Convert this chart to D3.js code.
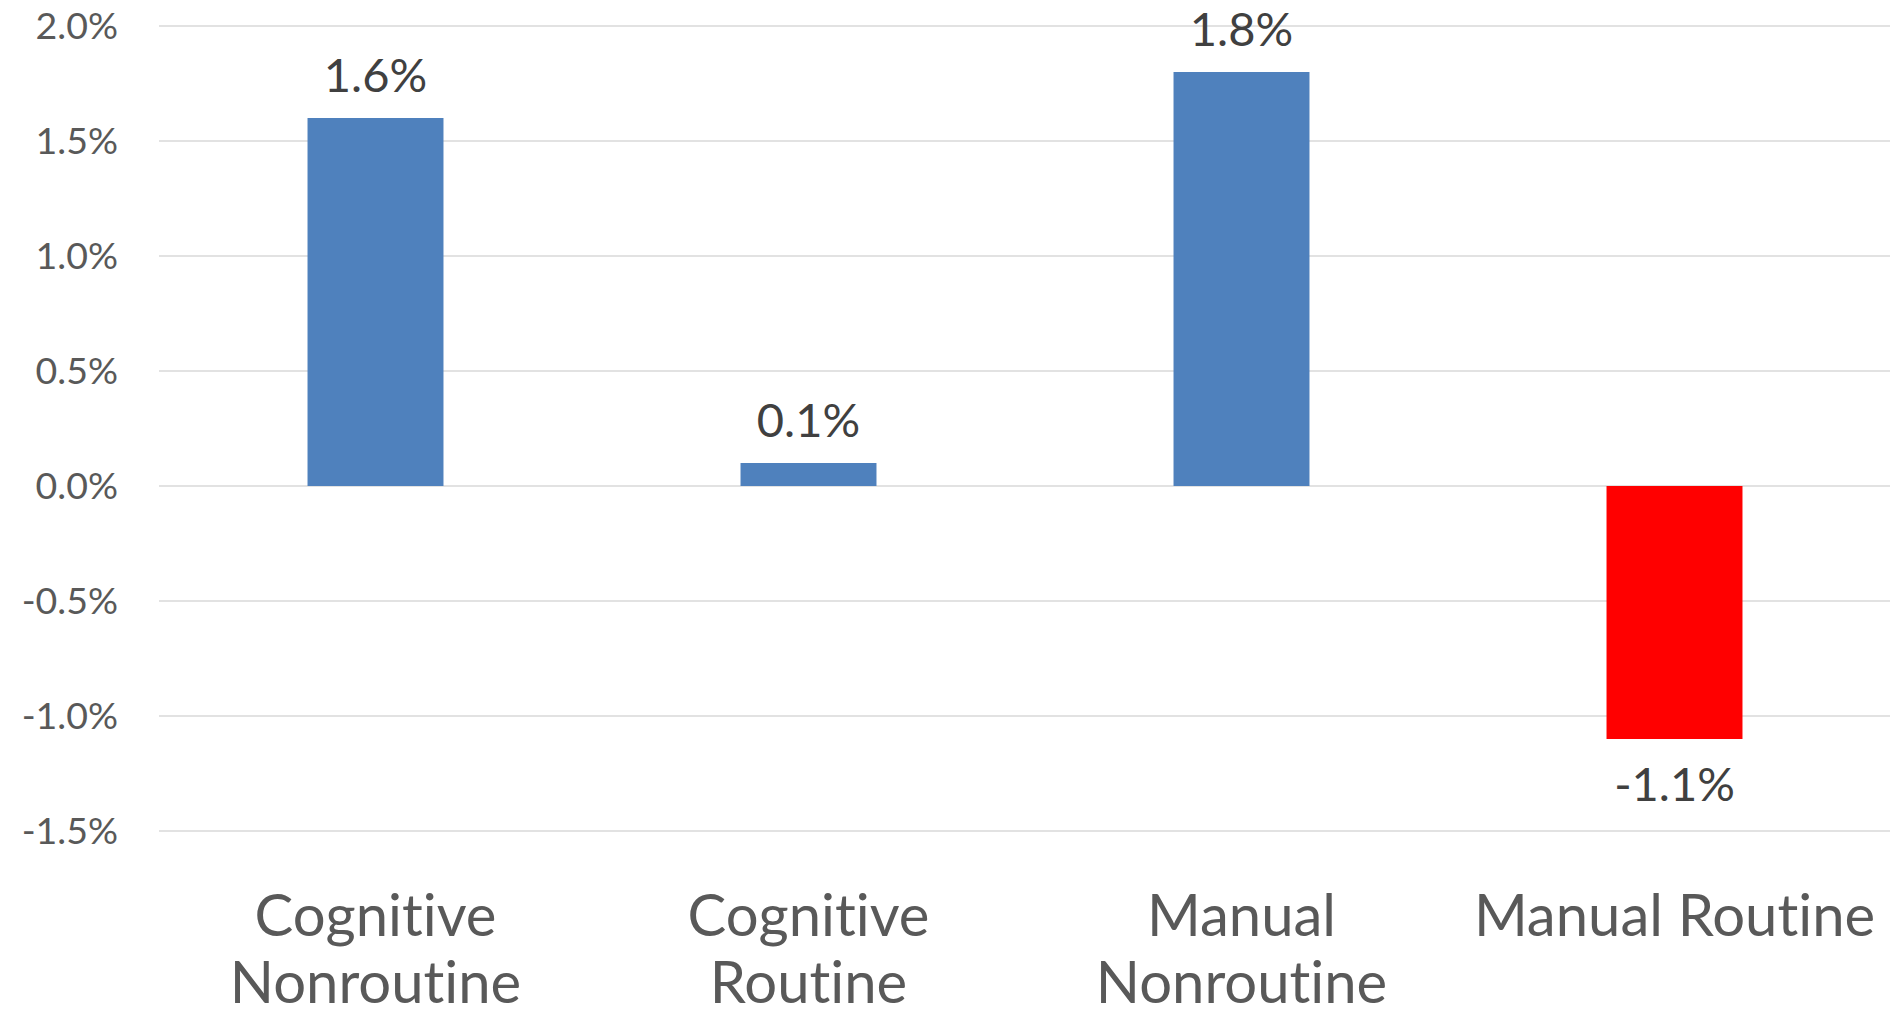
<!DOCTYPE html>
<html>
<head>
<meta charset="utf-8">
<script src="https://cdn.jsdelivr.net/npm/d3@7"></script>
<style>
  html, body { margin: 0; padding: 0; background: #fff; }
  svg { display: block; }
  text { font-family: Lato, "Open Sans", sans-serif; font-variant-ligatures: none; font-feature-settings: "liga" 0, "clig" 0; }
</style>
</head>
<body>
<svg id="chart" width="1890" height="1015"></svg>
<script>
const categories = ["Cognitive Nonroutine", "Cognitive Routine", "Manual Nonroutine", "Manual Routine"];
const values = [1.6, 0.1, 1.8, -1.1];
const barColors = ["#4F81BD", "#4F81BD", "#4F81BD", "#FF0000"];
const yTicks = [2.0, 1.5, 1.0, 0.5, 0.0, -0.5, -1.0, -1.5];

const svg = d3.select("#chart");
const W = 1890, H = 1015;

const x = d3.scaleBand()
  .domain(categories)
  .range([159, 1891])
  .paddingInner(0.686)
  .paddingOuter(0.343);

const y = d3.scaleLinear()
  .domain([-1.5, 2.0])
  .range([831, 26]);

const fmt = v => v.toFixed(1) + "%";

// gridlines
svg.append("g").selectAll("line")
  .data(yTicks)
  .join("line")
  .attr("x1", 159).attr("x2", W)
  .attr("y1", d => y(d)).attr("y2", d => y(d))
  .attr("stroke", "#D9D9D9")
  .attr("stroke-width", 1.5);

// y tick labels
svg.append("g").selectAll("text")
  .data(yTicks)
  .join("text")
  .attr("x", 118)
  .attr("y", d => y(d) + 13)
  .attr("text-anchor", "end")
  .attr("font-size", 37.5)
  .attr("fill", "#595959")
  .text(fmt);

// bars
svg.append("g").selectAll("rect")
  .data(values)
  .join("rect")
  .attr("x", (d, i) => x(categories[i]))
  .attr("width", x.bandwidth())
  .attr("y", d => y(Math.max(0, d)))
  .attr("height", d => Math.abs(y(d) - y(0)))
  .attr("fill", (d, i) => barColors[i]);

// data labels
svg.append("g").selectAll("text")
  .data(values)
  .join("text")
  .attr("x", (d, i) => x(categories[i]) + x.bandwidth() / 2)
  .attr("y", d => d >= 0 ? y(d) - 26 : y(d) + 62)
  .attr("text-anchor", "middle")
  .attr("font-size", 47)
  .attr("fill", "#404040")
  .text(fmt);

// category labels with wrapping
const catG = svg.append("g");
const line1 = 936, lineGap = 67;
categories.forEach((c, i) => {
  const cx = x(c) + x.bandwidth() / 2;
  const t = catG.append("text")
    .attr("x", cx)
    .attr("y", line1)
    .attr("text-anchor", "middle")
    .attr("font-size", 58)
    .attr("fill", "#595959");
  const maxW = x.step();
  const words = c.split(" ");
  let lines = [];
  let cur = [];
  const probe = t.append("tspan").attr("x", cx);
  words.forEach(w => {
    const test = cur.concat([w]).join(" ");
    probe.text(test);
    if (probe.node().getComputedTextLength() > maxW && cur.length) {
      lines.push(cur.join(" "));
      cur = [w];
    } else {
      cur.push(w);
    }
  });
  lines.push(cur.join(" "));
  probe.remove();
  lines.forEach((ln, k) => {
    t.append("tspan").attr("x", cx).attr("y", line1 + k * lineGap).text(ln);
  });
});
</script>
</body>
</html>
